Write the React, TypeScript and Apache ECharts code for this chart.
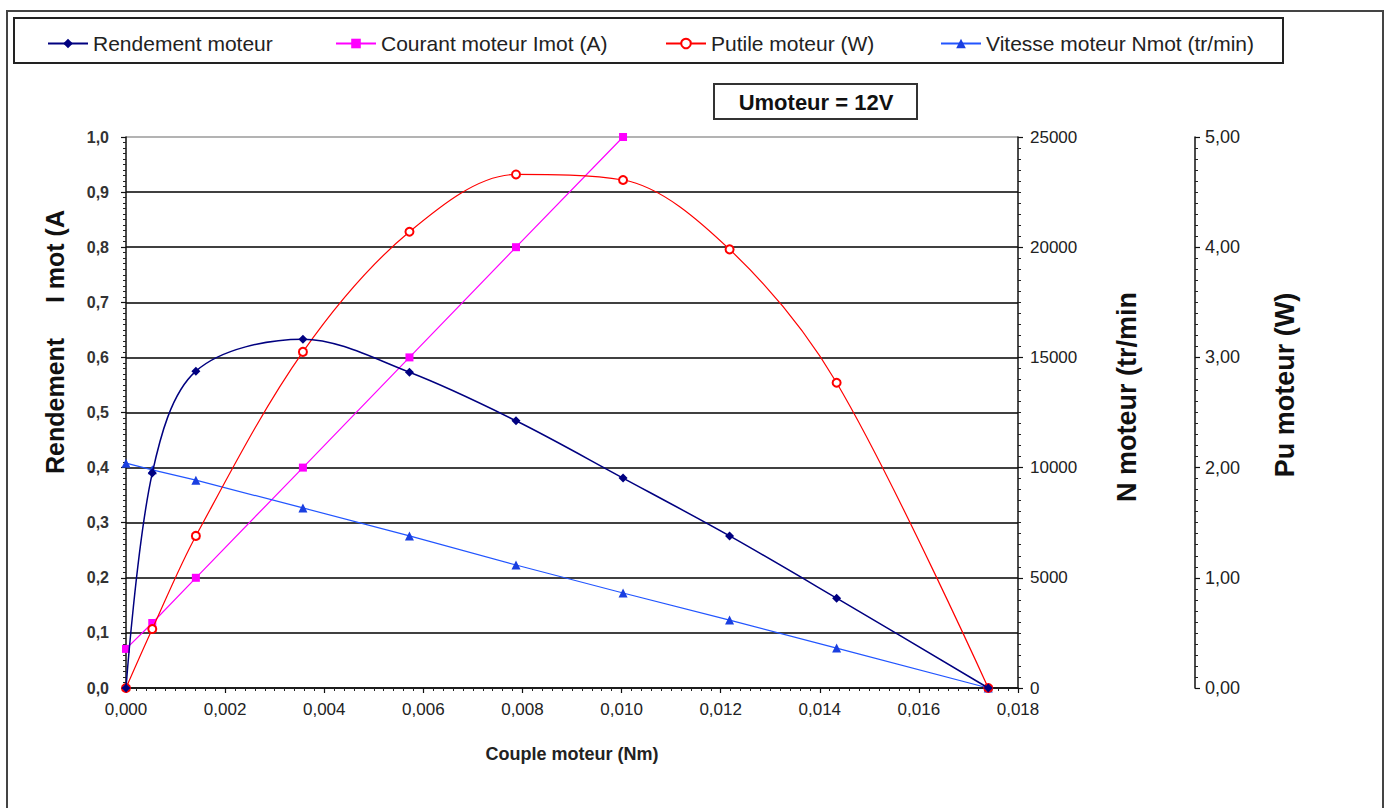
import React, { useEffect, useRef } from "react";
import * as echarts from "echarts";

// Couple moteur (Nm)
const torque = [0, 0.00053, 0.00141, 0.00357, 0.00572, 0.00787, 0.01003, 0.01218, 0.01434, 0.0174];
// Rendement (0..1)
const rendement = [0, 0.39, 0.575, 0.633, 0.573, 0.485, 0.381, 0.276, 0.163, 0];
// Courant moteur Imot (A) – visible points only (axis stops at 1,0)
const courant = [0.071, 0.118, 0.2, 0.4, 0.6, 0.8, 1.0];
// Putile moteur (W)
const putile = [0, 0.535, 1.38, 3.05, 4.14, 4.66, 4.61, 3.98, 2.77, 0];
// Vitesse moteur Nmot (tr/min)
const vitesse = [10200, 9900, 9430, 8170, 6900, 5580, 4310, 3080, 1810, 0];

const seriesNames = [
  "Rendement moteur",
  "Courant moteur Imot (A)",
  "Putile moteur (W)",
  "Vitesse moteur Nmot (tr/min)",
];

const FONT = "'Liberation Sans', Arial, Helvetica, sans-serif";

const pairs = (ys: number[]) => ys.map((y, i) => [torque[i], y]);
const comma = (v: number, d: number) => v.toFixed(d).replace(".", ",");

export default function App() {
  const ref = useRef<HTMLDivElement>(null);
  useEffect(() => {
    const chart = echarts.init(ref.current!, null, { renderer: "svg" });
    const legendLefts = [47, 335, 665, 940];
    const splitColors = ["#000", "#000", "#000", "#000", "#000", "#000", "#000", "#000", "#000", "#000", "#9a9a9a"];
    const tickCommon = {
      axisLine: { show: true, lineStyle: { color: "#111", width: 1.5 } },
      axisTick: { show: true, length: 5, lineStyle: { color: "#111", width: 1.2 } },
      minorTick: { show: true, splitNumber: 10, length: 3, lineStyle: { color: "#222", width: 1 } },
    };
    const option: any = {
      animation: false,
      backgroundColor: "#fff",
      textStyle: { fontFamily: FONT },
      grid: { left: 126, right: 372, top: 137, bottom: 120, containLabel: false },
      legend: seriesNames.map((n, i) => ({
        data: [n],
        left: legendLefts[i],
        top: 33,
        padding: 0,
        itemWidth: 40,
        itemHeight: 12,
        selectedMode: false,
        textStyle: { fontSize: 21, color: "#222", fontFamily: FONT },
      })),
      xAxis: {
        type: "value",
        min: 0,
        max: 0.018,
        interval: 0.002,
        ...tickCommon,
        splitLine: { show: false },
        axisLabel: {
          formatter: (v: number) => comma(v, 3),
          fontSize: 17,
          color: "#222",
          margin: 13,
          fontFamily: FONT,
        },
        name: "Couple moteur (Nm)",
        nameLocation: "middle",
        nameGap: 57,
        nameTextStyle: { fontSize: 18, fontWeight: "bold", color: "#222", fontFamily: FONT },
      },
      yAxis: [
        {
          type: "value",
          position: "left",
          min: 0,
          max: 1,
          interval: 0.1,
          ...tickCommon,
          splitLine: { show: true, lineStyle: { color: splitColors, width: 1.5 } },
          axisLabel: {
            formatter: (v: number) => comma(v, 1),
            fontSize: 16,
            fontWeight: "bold",
            color: "#333",
            margin: 17,
            fontFamily: FONT,
          },
        },
        {
          type: "value",
          position: "right",
          min: 0,
          max: 25000,
          interval: 5000,
          ...tickCommon,
          splitLine: { show: false },
          axisLabel: {
            formatter: (v: number) => String(v),
            fontSize: 17,
            color: "#222",
            margin: 12,
            fontFamily: FONT,
          },
        },
        {
          type: "value",
          position: "right",
          offset: 177,
          min: 0,
          max: 5,
          interval: 1,
          ...tickCommon,
          splitLine: { show: false },
          axisLabel: {
            formatter: (v: number) => comma(v, 2),
            fontSize: 18,
            color: "#222",
            margin: 10,
            fontFamily: FONT,
          },
        },
      ],
      series: [
        {
          name: seriesNames[0],
          type: "line",
          yAxisIndex: 0,
          data: pairs(rendement),
          smooth: 0.33,
          symbol: "diamond",
          symbolSize: 9,
          lineStyle: { color: "#000080", width: 1.5 },
          itemStyle: { color: "#000080" },
          z: 5,
        },
        {
          name: seriesNames[1],
          type: "line",
          yAxisIndex: 0,
          data: pairs(courant),
          smooth: false,
          symbol: "rect",
          symbolSize: 8,
          lineStyle: { color: "#ff00ff", width: 1.2 },
          itemStyle: { color: "#ff00ff" },
          z: 3,
        },
        {
          name: seriesNames[2],
          type: "line",
          yAxisIndex: 2,
          data: pairs(putile),
          smooth: 0.33,
          symbol: "emptyCircle",
          symbolSize: 8,
          lineStyle: { color: "#ff0000", width: 1.2 },
          itemStyle: { color: "#ff0000", borderColor: "#ff0000", borderWidth: 1.2 },
          z: 4,
        },
        {
          name: seriesNames[3],
          type: "line",
          yAxisIndex: 1,
          data: pairs(vitesse),
          smooth: false,
          symbol: "triangle",
          symbolSize: 9,
          lineStyle: { color: "#2255ff", width: 1.2 },
          itemStyle: { color: "#1a3fe0" },
          z: 3,
        },
      ],
      graphic: [
        {
          type: "rect",
          silent: true,
          shape: { x: 7, y: 11, width: 1376, height: 830 },
          style: { fill: "transparent", stroke: "#444", lineWidth: 2 },
        },
        {
          type: "rect",
          silent: true,
          shape: { x: 14, y: 18, width: 1269, height: 45 },
          style: { fill: "transparent", stroke: "#222", lineWidth: 2 },
        },
        {
          type: "rect",
          silent: true,
          shape: { x: 714, y: 84, width: 203, height: 35 },
          style: { fill: "#fff", stroke: "#333", lineWidth: 2 },
        },
        {
          type: "text",
          silent: true,
          x: 816,
          y: 102,
          style: {
            text: "Umoteur = 12V",
            font: `bold 22px ${FONT}`,
            fill: "#111",
            textAlign: "center",
            textVerticalAlign: "middle",
          },
        },
        {
          type: "text",
          silent: true,
          x: 55,
          y: 342,
          rotation: Math.PI / 2,
          style: {
            text: "Rendement     I mot (A",
            font: `bold 25px ${FONT}`,
            fill: "#111",
            textAlign: "center",
            textVerticalAlign: "middle",
          },
        },
        {
          type: "text",
          silent: true,
          x: 1127,
          y: 397,
          rotation: Math.PI / 2,
          style: {
            text: "N moteur (tr/min",
            font: `bold 27px ${FONT}`,
            fill: "#111",
            textAlign: "center",
            textVerticalAlign: "middle",
          },
        },
        {
          type: "text",
          silent: true,
          x: 1285,
          y: 385,
          rotation: Math.PI / 2,
          style: {
            text: "Pu moteur (W)",
            font: `bold 27px ${FONT}`,
            fill: "#111",
            textAlign: "center",
            textVerticalAlign: "middle",
          },
        },
      ],
    };
    chart.setOption(option);
    return () => chart.dispose();
  }, []);
  return (
    <div
      ref={ref}
      style={{ position: "absolute", left: 0, top: 0, width: 1390, height: 808, background: "#fff" }}
    />
  );
}
